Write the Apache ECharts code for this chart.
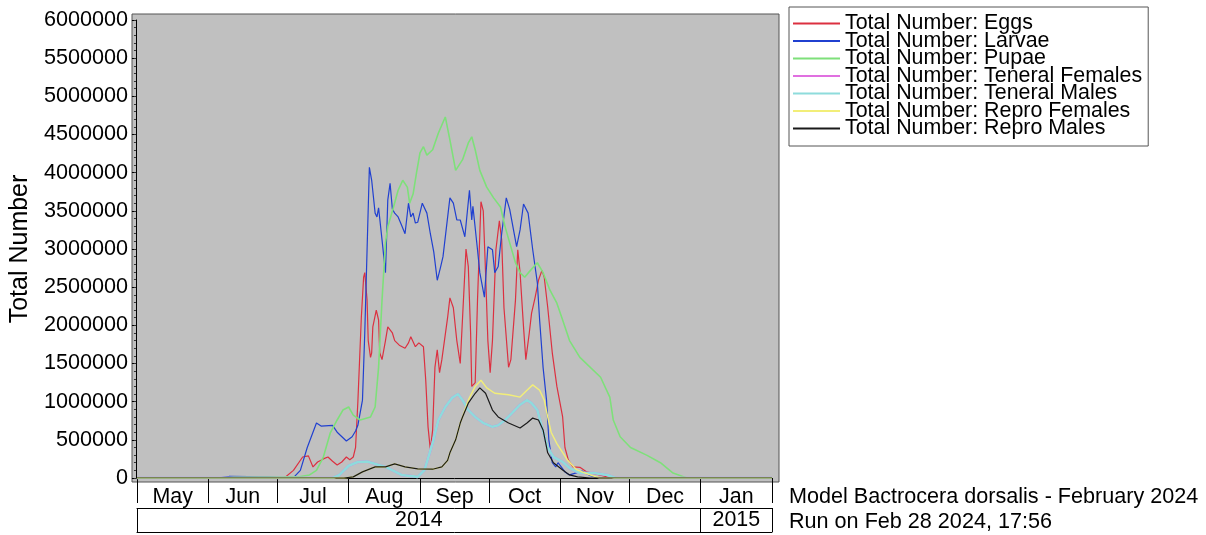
<!DOCTYPE html>
<html>
<head>
<meta charset="utf-8">
<title>Model Bactrocera dorsalis</title>
<script src="https://cdn.jsdelivr.net/npm/echarts@6/dist/echarts.min.js"></script>
<style>
  html, body { margin: 0; padding: 0; background: #fff; }
  #myChart { width: 1206px; height: 535px; }
</style>
</head>
<body>
<div id="myChart"></div>
<script>
  // x = days counted from 1 May 2014
  var monthNames = ['May', 'Jun', 'Jul', 'Aug', 'Sep', 'Oct', 'Nov', 'Dec', 'Jan']
  var monthStarts = [0, 31, 61, 92, 123, 153, 184, 214, 245, 276]
  var yearNames = ['2014', '2015']
  var yearStarts = [0, 245, 276]

  var seriesNames = ['Total Number: Eggs', 'Total Number: Larvae', 'Total Number: Pupae',
    'Total Number: Teneral Females', 'Total Number: Teneral Males',
    'Total Number: Repro Females', 'Total Number: Repro Males']

  var eggs = [[0,0],[64,0],[68,100000],[72,275000],[74.5,290000],[76.5,145000],[78.5,210000],[81,250000],[83,275000],[85,220000],[87,170000],[89,210000],[91,275000],[92.5,240000],[94,275000],[95,400000],[96,1000000],[97.5,2100000],[98.5,2630000],[99,2690000],[100,2330000],[100.5,1800000],[101.5,1580000],[102,1640000],[102.5,1980000],[104,2200000],[105,2070000],[105.5,1640000],[106.5,1550000],[108,1800000],[109,1980000],[111,1900000],[112,1800000],[114,1740000],[116.5,1700000],[118,1770000],[119,1850000],[121,1720000],[122.5,1770000],[124.5,1720000],[125.5,1280000],[126.5,670000],[127.5,370000],[128.5,630000],[129.5,1450000],[130.5,1680000],[131.5,1380000],[132.5,1550000],[135,2100000],[136,2360000],[137.5,2230000],[139,1800000],[140.5,1500000],[141.5,2100000],[143,3000000],[144,2770000],[145,1900000],[145.5,1200000],[147,1250000],[148,2330000],[149.5,3620000],[150.5,3500000],[151.5,2690000],[152.5,1800000],[153.5,1380000],[154.5,1800000],[156,2990000],[157.5,3370000],[158.5,3120000],[159.5,2230000],[161.5,1450000],[162.5,1550000],[164.5,2330000],[165.5,2990000],[166.5,2690000],[168,1980000],[169,1550000],[170.5,1900000],[171.5,2160000],[173,2360000],[174.5,2590000],[176,2720000],[177,2630000],[178.5,2240000],[180.5,1640000],[182.5,1200000],[185,800000],[186,400000],[187.5,235000],[189.5,145000],[192.5,140000],[195.5,80000],[201,40000],[206,0],[276,0]]

  var larvae = [[0,0],[35,0],[40,20000],[57,15000],[64,2000],[68,5000],[71,100000],[74,400000],[78,720000],[80,680000],[85,690000],[87,600000],[91,485000],[93.5,540000],[95,615000],[96,690000],[98,1020000],[99,1900000],[100,2990000],[101,4070000],[102,3900000],[103.5,3470000],[104.3,3420000],[105,3540000],[106.5,3120000],[108,2690000],[109,3640000],[110,3860000],[111,3520000],[112,3470000],[113.5,3420000],[115,3310000],[116.5,3200000],[118,3600000],[119,3420000],[120,3470000],[121,3340000],[122,3350000],[124,3600000],[126,3470000],[127.5,3200000],[129,2960000],[130.5,2590000],[132,2770000],[133,2900000],[136,3670000],[137.5,3600000],[139,3380000],[140.5,3380000],[142.5,3160000],[144.5,3770000],[145.5,3380000],[146,3560000],[148,2990000],[149,2690000],[151,2370000],[152.5,3030000],[154.5,2990000],[155.5,2690000],[157,2770000],[158.5,3200000],[160.5,3670000],[162,3520000],[165,3030000],[166.5,3250000],[168,3590000],[170,3470000],[172,2990000],[174,2560000],[175,2070000],[176.5,1450000],[178,1020000],[179,500000],[180.5,200000],[182,145000],[183,200000],[186,80000],[188,40000],[193.5,90000],[197,30000],[201,0],[276,0]]

  var pupae = [[0,0],[38,0],[42,10000],[64,15000],[71,20000],[75,40000],[78,100000],[81,275000],[84,590000],[87,760000],[89.5,890000],[92,930000],[94,825000],[97,760000],[101.5,800000],[103.5,930000],[105,1450000],[106.5,2330000],[108,3080000],[109,3290000],[111.5,3550000],[113.5,3770000],[115.5,3900000],[117.5,3810000],[118.5,3600000],[120,3720000],[121.5,4000000],[123,4260000],[124.5,4340000],[126,4230000],[128.5,4300000],[131,4520000],[134,4730000],[136,4430000],[138.5,4030000],[141.5,4170000],[144,4390000],[145.5,4470000],[147,4300000],[149,4030000],[152,3810000],[155,3670000],[158,3550000],[160,3290000],[162,3080000],[164.5,2820000],[166.5,2690000],[168.5,2630000],[171,2720000],[174,2820000],[176.5,2690000],[179.5,2460000],[182.5,2290000],[185,2070000],[188,1800000],[192.5,1580000],[201.5,1320000],[205.5,1060000],[207,760000],[210,540000],[214.5,400000],[221.5,300000],[227.5,200000],[233,65000],[239,0],[276,0]]

  var teneralFemales = [[0,0],[85,0],[88,40000],[92,160000],[96,210000],[100,215000],[104,180000],[108,145000],[115,40000],[122,15000],[125,105000],[128.5,460000],[131,760000],[134,930000],[137,1050000],[139.5,1100000],[141.5,1020000],[144,890000],[147,800000],[150.5,720000],[154.5,670000],[157,690000],[160,760000],[163,850000],[166.5,960000],[169.5,1020000],[171.5,980000],[174,890000],[176,670000],[178.5,400000],[181,275000],[185,210000],[188,130000],[192.5,65000],[198.5,65000],[204.5,40000],[208,0],[276,0]]

  var teneralMales = [[0,0],[85,0],[88,40000],[92,160000],[96,210000],[100,215000],[104,180000],[108,145000],[115,40000],[122,15000],[125,105000],[128.5,460000],[131,760000],[134,930000],[137,1050000],[139.5,1100000],[141.5,1020000],[144,890000],[147,800000],[150.5,720000],[154.5,670000],[157,690000],[160,760000],[163,850000],[166.5,960000],[169.5,1020000],[171.5,980000],[174,890000],[176,670000],[178.5,400000],[181,275000],[185,210000],[188,130000],[192.5,65000],[198.5,65000],[204.5,40000],[208,0],[276,0]]

  var reproFemales = [[0,0],[90,0],[94,15000],[98,80000],[103.5,145000],[108,145000],[112,185000],[116.5,145000],[122,120000],[128.5,115000],[132.5,145000],[135,230000],[136,330000],[138.5,500000],[140.5,720000],[141.5,800000],[144,1020000],[147,1200000],[149.5,1280000],[152,1180000],[155.5,1110000],[161.5,1090000],[166.5,1060000],[169.5,1150000],[172,1220000],[175,1150000],[177,1020000],[178.5,800000],[180,600000],[182.5,450000],[187,240000],[191,110000],[196,50000],[201,0],[276,0]]

  var reproMales = [[0,0],[90,0],[94,15000],[98,80000],[103.5,145000],[108,145000],[112,185000],[116.5,145000],[122,120000],[128.5,115000],[132.5,145000],[135,230000],[136,330000],[138.5,500000],[140.5,720000],[141.5,800000],[144,980000],[147,1110000],[149,1180000],[151.5,1110000],[154.5,890000],[157,800000],[161.5,720000],[166.5,655000],[169.5,720000],[172,785000],[174.5,760000],[176.5,630000],[178.5,330000],[181,200000],[185,105000],[188,40000],[191.5,15000],[197,0],[276,0]]

  var seriesData = [eggs, larvae, pupae, teneralFemales, teneralMales, reproFemales, reproMales]
  var seriesColors = ['#dc3040', '#2040d0', '#7ee07a', '#e070e0', '#8edcdc', '#f2ee78', '#1a1a1a']
  var seriesWidths = [1.2, 1.2, 1.6, 2.6, 2.6, 1.4, 1.2]

  var font = 'Liberation Sans, Arial, sans-serif'

  function mids(starts) {
    var out = []
    for (var i = 0; i < starts.length - 1; i++) out.push((starts[i] + starts[i + 1]) / 2)
    return out
  }
  function nameAt(starts, names, v) {
    for (var i = 0; i < starts.length - 1; i++) {
      if (v > starts[i] && v < starts[i + 1]) return names[i]
    }
    return ''
  }

  var myChart = echarts.init(document.getElementById('myChart'))

  var series = []
  for (var i = 0; i < seriesNames.length; i++) {
    series.push({
      name: seriesNames[i],
      type: 'line',
      xAxisIndex: 1,
      yAxisIndex: 1,
      symbol: 'none',
      showSymbol: false,
      color: seriesColors[i],
      lineStyle: { color: seriesColors[i], width: seriesWidths[i] },
      data: seriesData[i]
    })
  }

  myChart.setOption({
    animation: false,
    backgroundColor: '#fff',
    title: [
      {
        text: 'Model Bactrocera dorsalis - February 2024',
        left: 789, top: 486, padding: 0,
        textStyle: { fontSize: 21.6, fontWeight: 'normal', color: '#000', fontFamily: font }
      },
      {
        text: 'Run on Feb 28 2024, 17:56',
        left: 789, top: 511, padding: 0,
        textStyle: { fontSize: 21.6, fontWeight: 'normal', color: '#000', fontFamily: font }
      }
    ],
    legend: {
      orient: 'vertical',
      left: 789,
      top: 7,
      padding: [6, 6, 7, 4],
      itemGap: -3.5,
      itemWidth: 47,
      itemHeight: 2,
      icon: 'rect',
      selectedMode: false,
      borderColor: '#555',
      borderWidth: 1,
      backgroundColor: '#fff',
      textStyle: { fontSize: 21.4, color: '#000', fontFamily: font },
      data: seriesNames
    },
    grid: [
      { left: 132, right: 427, top: 14, bottom: 53, show: true, backgroundColor: '#c0c0c0', borderColor: '#555', borderWidth: 1 },
      { left: 137, right: 434, top: 20, bottom: 57 },
      { left: 132, right: 427, top: 20, bottom: 57 }
    ],
    xAxis: [
      { gridIndex: 0, type: 'value', show: false, min: 0, max: 1 },
      {
        gridIndex: 1, type: 'value', min: 0, max: 276, position: 'bottom', offset: 5,
        axisLine: { show: true, lineStyle: { color: '#000', width: 1 } },
        axisTick: { show: true, customValues: monthStarts, length: 25, inside: false, lineStyle: { color: '#000' } },
        axisLabel: {
          show: true, customValues: mids(monthStarts), margin: 4,
          fontSize: 21.4, color: '#000', fontFamily: font,
          formatter: function (v) { return nameAt(monthStarts, monthNames, v) }
        },
        splitLine: { show: false }
      },
      {
        gridIndex: 1, type: 'value', min: 0, max: 276, position: 'bottom', offset: 30,
        axisLine: { show: true, lineStyle: { color: '#000', width: 1 } },
        axisTick: { show: true, customValues: yearStarts, length: 24, inside: false, lineStyle: { color: '#000' } },
        axisLabel: {
          show: true, customValues: mids(yearStarts), margin: 2,
          fontSize: 21.4, color: '#000', fontFamily: font,
          formatter: function (v) { return nameAt(yearStarts, yearNames, v) }
        },
        splitLine: { show: false }
      },
      {
        gridIndex: 1, type: 'value', min: 0, max: 276, position: 'bottom', offset: 54,
        axisLine: { show: true, lineStyle: { color: '#000', width: 1 } },
        axisTick: { show: false },
        axisLabel: { show: false },
        splitLine: { show: false }
      },
      { gridIndex: 2, type: 'value', show: false, min: 0, max: 1 }
    ],
    yAxis: [
      { gridIndex: 0, type: 'value', show: false, min: 0, max: 1 },
      { gridIndex: 1, type: 'value', show: false, min: 0, max: 6000000 },
      {
        gridIndex: 2, type: 'value', min: 0, max: 6000000, interval: 500000,
        position: 'left',
        name: 'Total Number', nameLocation: 'middle', nameGap: 88,
        nameTextStyle: { fontSize: 25, color: '#000', fontFamily: font },
        axisLine: { show: true, lineStyle: { color: '#000' } },
        axisTick: { show: true, length: 4, inside: false, lineStyle: { color: '#000' } },
        axisLabel: {
          fontSize: 21.6, color: '#000', margin: 8, fontFamily: font,
          formatter: function (v) { return String(v) }
        },
        splitLine: { show: false }
      },
      {
        // small ticks every 100000
        gridIndex: 2, type: 'value', min: 0, max: 6000000, interval: 100000,
        position: 'left', offset: 0,
        axisLine: { show: false },
        axisTick: { show: true, length: 2, inside: false, lineStyle: { color: '#333' } },
        axisLabel: { show: false },
        splitLine: { show: false }
      }
    ],
    series: series
  })
</script>
</body>
</html>
